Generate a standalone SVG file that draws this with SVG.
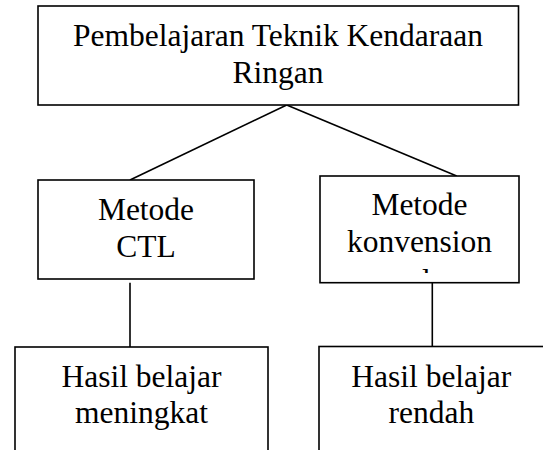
<svg xmlns="http://www.w3.org/2000/svg" width="543" height="450" viewBox="0 0 543 450">
<style>
.box{fill:#fff;stroke:#000;stroke-width:1.6}
.ln{stroke:#000;stroke-width:1.6;fill:none}
.t{font-family:"Liberation Serif","Times New Roman",serif;font-size:31.5px;fill:#000;text-anchor:middle}
</style>
<defs>
<clipPath id="clipK"><rect x="320" y="176" width="200" height="97"/></clipPath>
</defs>
<rect width="543" height="450" fill="#fff"/>
<g id="connectors">
<line class="ln" x1="286.7" y1="105" x2="130" y2="180"/>
<line class="ln" x1="286.7" y1="105" x2="456.7" y2="176"/>
<line class="ln" x1="130" y1="282.7" x2="130" y2="347"/>
<line class="ln" x1="432.3" y1="282.7" x2="432.3" y2="346.5"/>
</g>
<g id="top">
<rect class="box" x="38" y="6" width="480.5" height="99"/>
<text class="t" x="278" y="45.5">Pembelajaran Teknik Kendaraan</text>
<text class="t" x="278" y="83">Ringan</text>
</g>
<g id="ctl">
<rect class="box" x="38" y="180" width="216" height="99"/>
<text class="t" x="146" y="220">Metode</text>
<text class="t" x="146" y="257">CTL</text>
</g>
<g id="konvensional">
<rect class="box" x="320" y="176" width="199" height="106.7"/>
<text class="t" x="419.5" y="215">Metode</text>
<text class="t" x="419.5" y="252">konvension</text>
<g clip-path="url(#clipK)"><text class="t" x="419.5" y="290.5">al</text></g>
</g>
<g id="meningkat">
<rect class="box" x="15" y="347" width="253" height="120"/>
<text class="t" x="141.5" y="386.7">Hasil belajar</text>
<text class="t" x="141.5" y="423.3">meningkat</text>
</g>
<g id="rendah">
<rect class="box" x="319" y="346.5" width="250" height="120"/>
<text class="t" x="431.3" y="386.7">Hasil belajar</text>
<text class="t" x="431.3" y="423.3">rendah</text>
</g>
</svg>
